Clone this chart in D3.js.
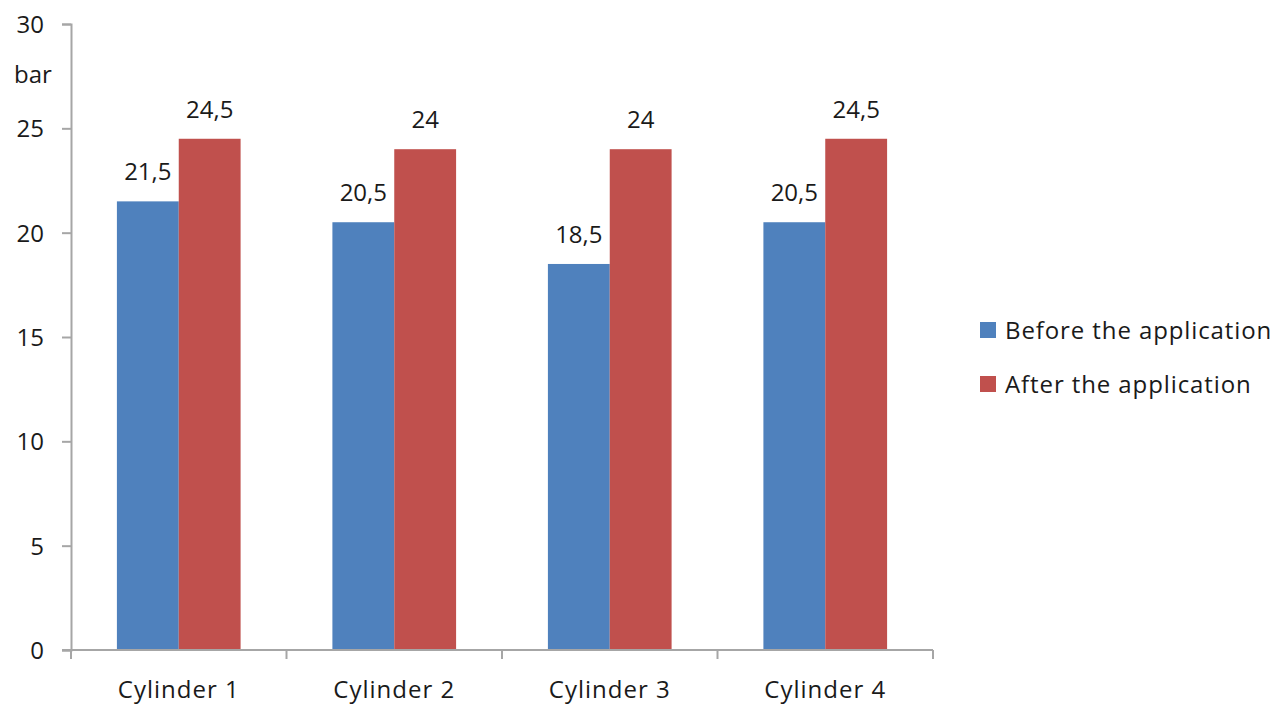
<!DOCTYPE html>
<html><head><meta charset="utf-8">
<script src="https://cdn.jsdelivr.net/npm/d3@7"></script>
<style>body{margin:0;background:#fff;} text{font-family:"Open Sans",sans-serif;fill:#1a1a1a;}</style>
</head><body><svg id="c" width="1279" height="707"></svg>
<script>
const categories = ["Cylinder 1","Cylinder 2","Cylinder 3","Cylinder 4"];
const seriesNames = ["Before the application","After the application"];
const before = [21.5, 20.5, 18.5, 20.5];
const after = [24.5, 24, 24, 24.5];
const valueLabels = [["21,5","20,5","18,5","20,5"],["24,5","24","24","24,5"]];
const yTicks = [0,5,10,15,20,25,30];
const colors = ["#4F81BD","#C0504D"];

const svg = d3.select("#c");
const x0 = d3.scaleBand().domain(categories).range([71,933]).padding(0);
const bw = x0.bandwidth();
const x1 = d3.scaleBand().domain(seriesNames).range([bw*0.213, bw*0.787]).padding(0);
const y = d3.scaleLinear().domain([0,30]).range([650,24]);
const axisColor = "#a6a6a6";
const FS = 24;

// y axis
const ya = svg.append("g").attr("transform","translate(71,0)")
  .call(d3.axisLeft(y).tickValues(yTicks).tickSize(9).tickFormat(d=>d));
ya.select(".domain").attr("stroke",axisColor).attr("stroke-width",2);
ya.selectAll(".tick line").attr("stroke",axisColor).attr("stroke-width",2);
ya.selectAll(".tick text").attr("font-size",FS).attr("x",-27).attr("dy","0.35em").style("fill","#1a1a1a");
svg.append("text").attr("x",33).attr("y",83).attr("text-anchor","middle").attr("font-size",FS).text("bar");

// bars
const data = categories.map((c,i)=>({c, vals:[before[i],after[i]]}));
const g = svg.append("g").selectAll("g").data(data).join("g").attr("transform",d=>`translate(${x0(d.c)},0)`);
g.selectAll("rect").data(d=>d.vals.map((v,j)=>({v,j}))).join("rect")
  .attr("x",d=>x1(seriesNames[d.j])).attr("width",x1.bandwidth())
  .attr("y",d=>y(d.v)).attr("height",d=>y(0)-y(d.v)).attr("fill",d=>colors[d.j]);
g.selectAll("text.v").data((d,i)=>d.vals.map((v,j)=>({v,j,i}))).join("text").attr("class","v")
  .attr("x",d=>x1(seriesNames[d.j])+x1.bandwidth()/2).attr("y",d=>y(d.v)-21)
  .attr("text-anchor","middle").attr("font-size",FS).text(d=>valueLabels[d.j][d.i]);

// x axis
const xa = svg.append("g").attr("transform","translate(0,650)")
  .call(d3.axisBottom(x0).tickSize(0).tickSizeOuter(0));
xa.select(".domain").attr("stroke",axisColor).attr("stroke-width",2).attr("d","M62,0H933");
xa.selectAll(".tick text").attr("font-size",FS).attr("y",48).attr("dy",0).attr("letter-spacing",1).style("fill","#1a1a1a");
const bounds = [...categories.map(c=>x0(c)), x0(categories[3])+bw];
svg.append("g").selectAll("line").data(bounds).join("line")
  .attr("x1",d=>d).attr("x2",d=>d).attr("y1",650).attr("y2",659).attr("stroke",axisColor).attr("stroke-width",2);

// legend
const lg = svg.append("g").selectAll("g").data(seriesNames).join("g")
  .attr("transform",(d,i)=>`translate(980,${322+i*54})`);
lg.append("rect").attr("width",16).attr("height",16).attr("fill",(d,i)=>colors[i]);
lg.append("text").attr("x",25).attr("y",17).attr("font-size",FS).attr("letter-spacing",0.9).text(d=>d);
</script></body></html>
